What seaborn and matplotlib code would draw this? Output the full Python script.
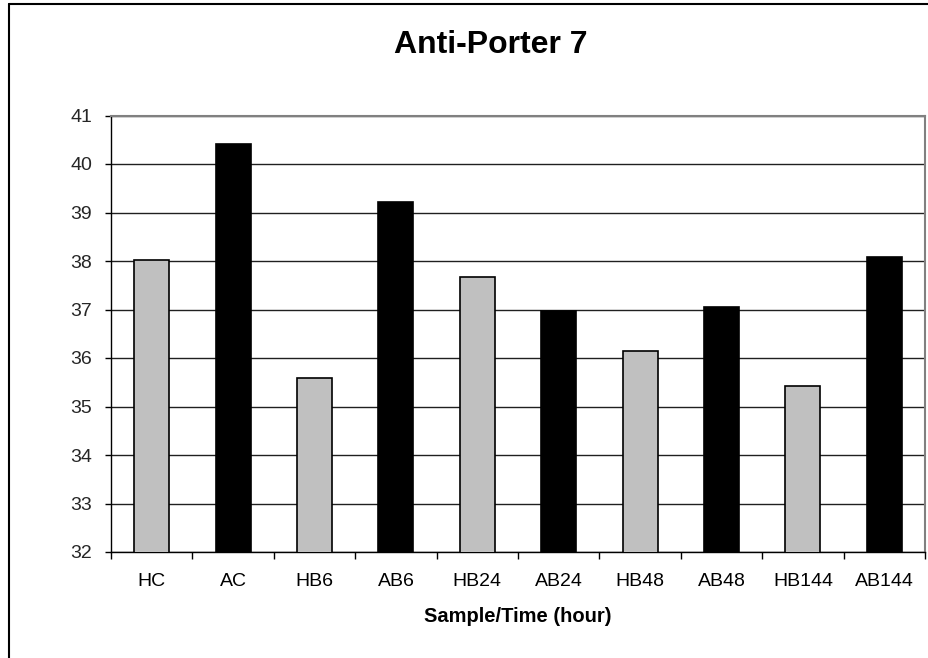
import numpy as np
import pandas as pd
import seaborn as sns
import matplotlib
matplotlib.use("Agg")
import matplotlib.pyplot as plt
from matplotlib.lines import Line2D

# ---- data ----
categories = ["HC", "AC", "HB6", "AB6", "HB24", "AB24", "HB48", "AB48", "HB144", "AB144"]
values = [38.02, 40.42, 35.58, 39.22, 37.66, 36.97, 36.14, 37.05, 35.42, 38.08]
groups = ["H", "A", "H", "A", "H", "A", "H", "A", "H", "A"]
y_ticks = [32, 33, 34, 35, 36, 37, 38, 39, 40, 41]
title = "Anti-Porter 7"
x_title = "Sample/Time (hour)"

sns.set_theme(style="white")
plt.rcParams["font.family"] = ["Liberation Sans", "DejaVu Sans"]

W, H = 929, 658
fig = plt.figure(figsize=(W / 100, H / 100), dpi=100)
ax = fig.add_axes([111 / W, 1 - 552 / H, (925 - 111) / W, (552 - 115.5) / H])

df = pd.DataFrame({"Sample": categories, "Value": values, "Group": groups})
sns.barplot(data=df, x="Sample", y="Value", hue="Group",
            palette={"H": "#C0C0C0", "A": "#000000"},
            width=0.43, dodge=False, edgecolor="black", linewidth=1.2,
            legend=False, ax=ax, zorder=3)

ax.set_ylim(y_ticks[0], y_ticks[-1])
ax.set_xlim(-0.5, len(categories) - 0.5)
ax.set_yticks(y_ticks)
ax.set_yticklabels([str(t) for t in y_ticks])
ax.yaxis.grid(True, color="#202020", linewidth=1.0)
ax.xaxis.grid(False)
ax.set_axisbelow(True)

# x ticks: labels at centres, tick marks at category boundaries
ax.set_xticks(range(len(categories)))
ax.set_xticklabels(categories)
ax.set_xticks(np.arange(-0.5, len(categories), 1.0), minor=True)
ax.tick_params(axis="x", which="major", length=0, pad=15, labelsize=14, colors="black")
ax.tick_params(axis="x", which="minor", length=5, width=1, direction="out", color="black", bottom=True)
ax.tick_params(axis="y", which="major", length=4.5, width=1, direction="out", pad=9,
               labelsize=14, color="black", left=True)

ax.set_xlabel(x_title, fontsize=14.5, fontweight="bold", labelpad=12, color="black")
ax.set_ylabel("")

for s in ["left", "bottom"]:
    ax.spines[s].set_color("black")
    ax.spines[s].set_linewidth(1.0)
for s in ["right", "top"]:
    ax.spines[s].set_color("#808080")
    ax.spines[s].set_linewidth(1.5)

fig.text(491 / W, 1 - 45 / H, title, ha="center", va="center",
         fontsize=23, fontweight="bold", color="black")

# chart-area border (left and top visible in the crop)
fig.add_artist(Line2D([9 / W, 9 / W], [0, 1 - 4 / H], transform=fig.transFigure,
                      color="black", linewidth=1.5))
fig.add_artist(Line2D([9 / W, 1], [1 - 4 / H, 1 - 4 / H], transform=fig.transFigure,
                      color="black", linewidth=1.5))

fig.savefig("out.png", dpi=100)
